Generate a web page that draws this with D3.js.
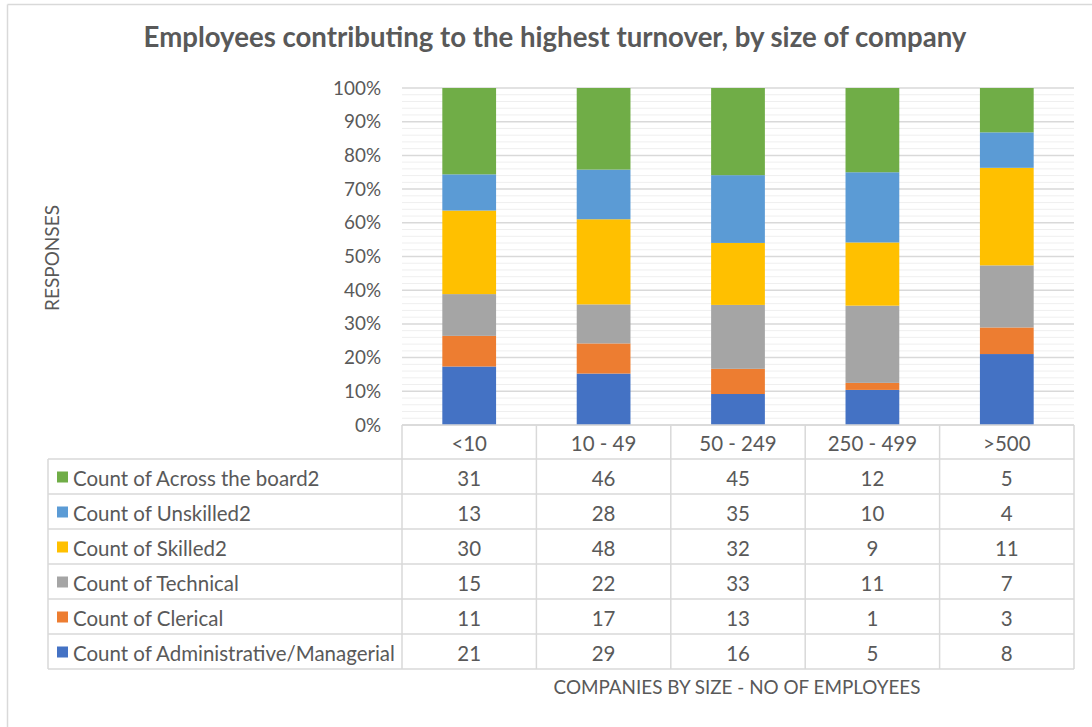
<!DOCTYPE html>
<html>
<head>
<meta charset="utf-8">
<script src="https://cdn.jsdelivr.net/npm/d3@7"></script>
<style>
  html, body { margin: 0; padding: 0; background: #ffffff; }
  svg { display: block; }
  text { font-family: Lato, "Open Sans", sans-serif; fill: #595959; }
</style>
</head>
<body>
<svg id="chart" width="1092" height="727"></svg>
<script>
// Company size groups (columns) and per-group response counts for each employee type
const categories = ["<10", "10 - 49", "50 - 249", "250 - 499", ">500"];
const seriesNames = [
  "Count of Administrative/Managerial",
  "Count of Clerical",
  "Count of Technical",
  "Count of Skilled2",
  "Count of Unskilled2",
  "Count of Across the board2"
];
const administrative = [21, 29, 16, 5, 8];
const clerical       = [11, 17, 13, 1, 3];
const technical      = [15, 22, 33, 11, 7];
const skilled        = [30, 48, 32, 9, 11];
const unskilled      = [13, 28, 35, 10, 4];
const acrossBoard    = [31, 46, 45, 12, 5];
const yTickValues = [0, 0.1, 0.2, 0.3, 0.4, 0.5, 0.6, 0.7, 0.8, 0.9, 1.0];

const seriesColors = ["#4472C4", "#ED7D31", "#A5A5A5", "#FFC000", "#5B9BD5", "#70AD47"];
const seriesValues = [administrative, clerical, technical, skilled, unskilled, acrossBoard];

// rows keyed by category for d3.stack
const rows = categories.map((c, i) => {
  const r = { category: c };
  seriesNames.forEach((s, k) => { r[s] = seriesValues[k][i]; });
  return r;
});

const svg = d3.select("#chart");
const textColor = "#595959";
const lineColor = "#d9d9d9";

// outer chart frame
svg.append("line").attr("x1", 7.5).attr("x2", 1092).attr("y1", 4.5).attr("y2", 4.5)
  .attr("stroke", lineColor).attr("stroke-width", 1.5);
svg.append("line").attr("x1", 7.5).attr("x2", 7.5).attr("y1", 4.5).attr("y2", 727)
  .attr("stroke", lineColor).attr("stroke-width", 1.5);

// shrink/grow a text element's font size so it spans a given width
function fitWidth(sel, width) {
  const node = sel.node();
  const fs = parseFloat(sel.attr("font-size"));
  const w = node.getComputedTextLength();
  sel.attr("font-size", (fs * width / w).toFixed(2));
  return fs * width / w;
}

const plot = { left: 402, right: 1074, top: 88, bottom: 425 };

const x = d3.scaleBand().domain(categories)
  .range([plot.left, plot.right]).paddingInner(0.6).paddingOuter(0.3);
const y = d3.scaleLinear().domain([0, 1]).range([plot.bottom, plot.top]);

// minor gridlines every 2%
const minorTicks = d3.range(0, 101, 2).filter(v => v % 10 !== 0).map(v => v / 100);
svg.append("g").selectAll("line").data(minorTicks).join("line")
  .attr("x1", plot.left).attr("x2", plot.right)
  .attr("y1", d => y(d)).attr("y2", d => y(d))
  .attr("stroke", "#efefef").attr("stroke-width", 1);

// major gridlines every 10%
svg.append("g").selectAll("line").data(yTickValues).join("line")
  .attr("x1", plot.left).attr("x2", plot.right)
  .attr("y1", d => y(d)).attr("y2", d => y(d))
  .attr("stroke", lineColor).attr("stroke-width", 1.5);

// y axis labels
const yAxis = d3.axisLeft(y).tickValues(yTickValues).tickFormat(d3.format(".0%"))
  .tickSize(0).tickPadding(0);
const yG = svg.append("g").attr("transform", `translate(381,0)`).call(yAxis);
yG.select(".domain").remove();
yG.selectAll("text").attr("fill", textColor).attr("font-size", 17)
  .attr("font-family", "Lato, sans-serif");
const yTop = yG.selectAll("text").filter(d => d === 1);
const yFs = fitWidth(yTop, 48);
yG.selectAll("text").attr("font-size", yFs.toFixed(2));

// stacked 100% columns
const stack = d3.stack().keys(seriesNames).offset(d3.stackOffsetExpand);
const stacked = stack(rows);
svg.append("g").selectAll("g").data(stacked).join("g")
  .attr("fill", (d, i) => seriesColors[i])
  .selectAll("rect").data(d => d).join("rect")
  .attr("x", d => x(d.data.category))
  .attr("width", x.bandwidth())
  .attr("y", d => y(d[1]))
  .attr("height", d => y(d[0]) - y(d[1]));

// data table beneath the plot
const table = { left: 48, headerTop: 425, headerBottom: 459, rowH: 35 };
const tableRows = seriesNames.slice().reverse(); // top row is the top of the stack
const tableBottom = table.headerBottom + table.rowH * tableRows.length;
const step = x.step();
const colEdges = categories.map((c, i) => plot.left + i * step).concat([plot.right]);

const tg = svg.append("g");
// horizontal rules
tg.append("line").attr("x1", plot.left).attr("x2", plot.right)
  .attr("y1", table.headerTop).attr("y2", table.headerTop)
  .attr("stroke", lineColor).attr("stroke-width", 1.5);
d3.range(tableRows.length + 1).forEach(k => {
  const yy = table.headerBottom + k * table.rowH;
  tg.append("line").attr("x1", table.left).attr("x2", plot.right)
    .attr("y1", yy).attr("y2", yy).attr("stroke", lineColor).attr("stroke-width", 1.5);
});
// vertical rules
colEdges.forEach(cx => {
  tg.append("line").attr("x1", cx).attr("x2", cx)
    .attr("y1", table.headerTop).attr("y2", tableBottom)
    .attr("stroke", lineColor).attr("stroke-width", 1.5);
});
tg.append("line").attr("x1", table.left).attr("x2", table.left)
  .attr("y1", table.headerBottom).attr("y2", tableBottom)
  .attr("stroke", lineColor).attr("stroke-width", 1.5);

// category header labels
tg.selectAll("text.hdr").data(categories).join("text").attr("class", "hdr")
  .attr("x", d => x(d) + x.bandwidth() / 2)
  .attr("y", (table.headerTop + table.headerBottom) / 2 + 1)
  .attr("text-anchor", "middle").attr("dominant-baseline", "central")
  .attr("font-size", 17).text(d => d);

// legend keys and labels
const labelSel = tg.selectAll("text.lbl").data(tableRows).join("text").attr("class", "lbl")
  .attr("x", 73)
  .attr("y", (d, k) => table.headerBottom + k * table.rowH + table.rowH / 2 + 1)
  .attr("dominant-baseline", "central")
  .attr("font-size", 17).text(d => d);
const longest = labelSel.filter(d => d === "Count of Administrative/Managerial");
const tableFs = fitWidth(longest, 322);
labelSel.attr("font-size", tableFs.toFixed(2));
tg.selectAll("text.hdr").attr("font-size", tableFs.toFixed(2));

tg.selectAll("rect.key").data(tableRows).join("rect").attr("class", "key")
  .attr("x", 57).attr("width", 11).attr("height", 11)
  .attr("y", (d, k) => table.headerBottom + k * table.rowH + table.rowH / 2 - 5)
  .attr("fill", d => seriesColors[seriesNames.indexOf(d)]);

// value cells
tableRows.forEach((s, k) => {
  const vals = seriesValues[seriesNames.indexOf(s)];
  tg.append("g").selectAll("text").data(vals).join("text")
    .attr("x", (d, i) => x(categories[i]) + x.bandwidth() / 2)
    .attr("y", table.headerBottom + k * table.rowH + table.rowH / 2 + 1)
    .attr("text-anchor", "middle").attr("dominant-baseline", "central")
    .attr("font-size", tableFs.toFixed(2)).text(d => d);
});

// chart title
const title = svg.append("text")
  .attr("x", 555).attr("y", 47).attr("text-anchor", "middle")
  .attr("font-weight", "bold").attr("font-size", 24)
  .text("Employees contributing to the highest turnover, by size of company");
fitWidth(title, 823);

// axis titles
const xTitle = svg.append("text")
  .attr("x", 737).attr("y", 694).attr("text-anchor", "middle")
  .attr("font-size", 17).text("COMPANIES BY SIZE - NO OF EMPLOYEES");
fitWidth(xTitle, 367);

const yTitle = svg.append("text")
  .attr("transform", "translate(51,258) rotate(-90)")
  .attr("text-anchor", "middle").attr("dominant-baseline", "central")
  .attr("font-size", 15).text("RESPONSES");
fitWidth(yTitle, 106);
</script>
</body>
</html>
